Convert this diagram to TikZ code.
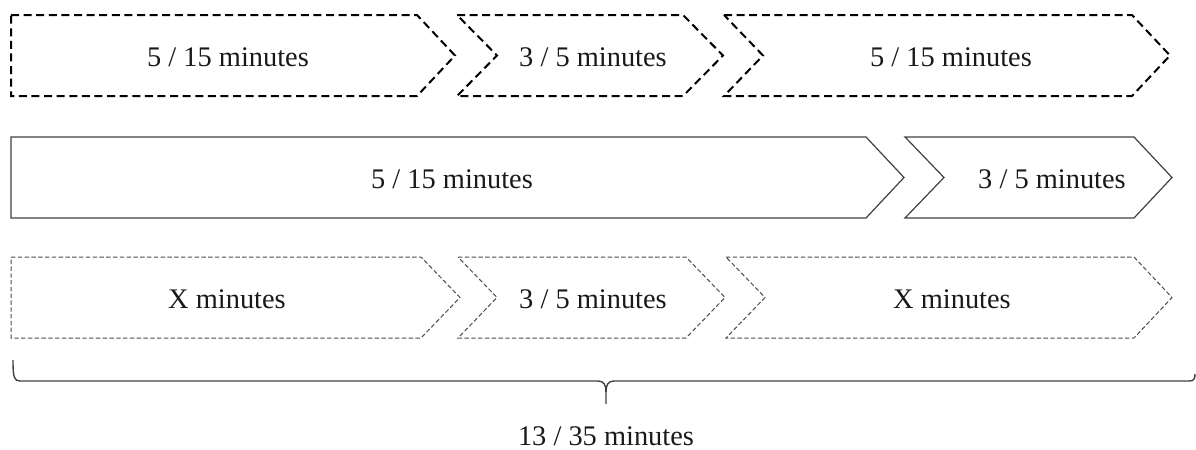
\documentclass[tikz,border=0pt]{standalone}
\usepackage{fontspec}
\setmainfont{Liberation Serif}
\begin{document}
\begin{tikzpicture}[x=0.5pt,y=-0.5pt,
  thickdash/.style={draw=black,line width=1pt,dash pattern=on 4pt off 2.3pt,line join=miter},
  solidbox/.style={draw=black!75,line width=0.6pt,line join=miter},
  thindash/.style={draw=black!70,line width=0.5pt,dash pattern=on 2.2pt off 1.2pt,line join=miter},
  lbl/.style={font=\fontsize{14.2pt}{16pt}\selectfont,text=black!90,anchor=base,inner sep=0pt},
  bracket/.style={draw=black!75,line width=0.7pt}]
\useasboundingbox (0,0) rectangle (1196,450);
% Row 1
\draw[thickdash] (11,15) -- (417,15) -- (455,55.5) -- (417,96) -- (11,96) -- cycle;
\draw[thickdash] (457,15) -- (683,15) -- (723,55.5) -- (683,96) -- (457,96) -- (497,55.5) -- cycle;
\draw[thickdash] (724,15) -- (1132,15) -- (1170,55.5) -- (1132,96) -- (724,96) -- (763,55.5) -- cycle;
\node[lbl] (a) at (228,66) {5 / 15 minutes};
\node[lbl] (b) at (593,66) {3 / 5 minutes};
\node[lbl] (c) at (951,66) {5 / 15 minutes};
% Row 2
\draw[solidbox] (11,137) -- (866,137) -- (904,177.5) -- (866,218) -- (11,218) -- cycle;
\draw[solidbox] (905,137) -- (1134,137) -- (1172,177.5) -- (1134,218) -- (905,218) -- (944,177.5) -- cycle;
\node[lbl] (d) at (452,188) {5 / 15 minutes};
\node[lbl] (e) at (1052,188) {3 / 5 minutes};
% Row 3
\draw[thindash] (11,257) -- (421,257) -- (460,297.5) -- (421,338) -- (11,338) -- cycle;
\draw[thindash] (458,257) -- (686,257) -- (725,297.5) -- (686,338) -- (458,338) -- (497,297.5) -- cycle;
\draw[thindash] (726,257) -- (1134,257) -- (1172,297.5) -- (1134,338) -- (726,338) -- (765,297.5) -- cycle;
\node[lbl] (f) at (227,308) {X minutes};
\node[lbl] (g) at (593,308) {3 / 5 minutes};
\node[lbl] (h) at (952,308) {X minutes};
% Bracket
\coordinate (bl) at (13,360);
\coordinate (bm) at (606,404);
\coordinate (br) at (1195,374);
\draw[bracket] (bl) .. controls (13,377) and (14,381) .. (20,381) -- (598,381)
  .. controls (604,381) and (606,385) .. (606,392) -- (bm);
\draw[bracket] (606,392) .. controls (606,385) and (608,381) .. (614,381) -- (1189,381)
  .. controls (1194,381) and (1195,379) .. (br);
\node[lbl] (t) at (606,445) {13 / 35 minutes};
\end{tikzpicture}
\end{document}
